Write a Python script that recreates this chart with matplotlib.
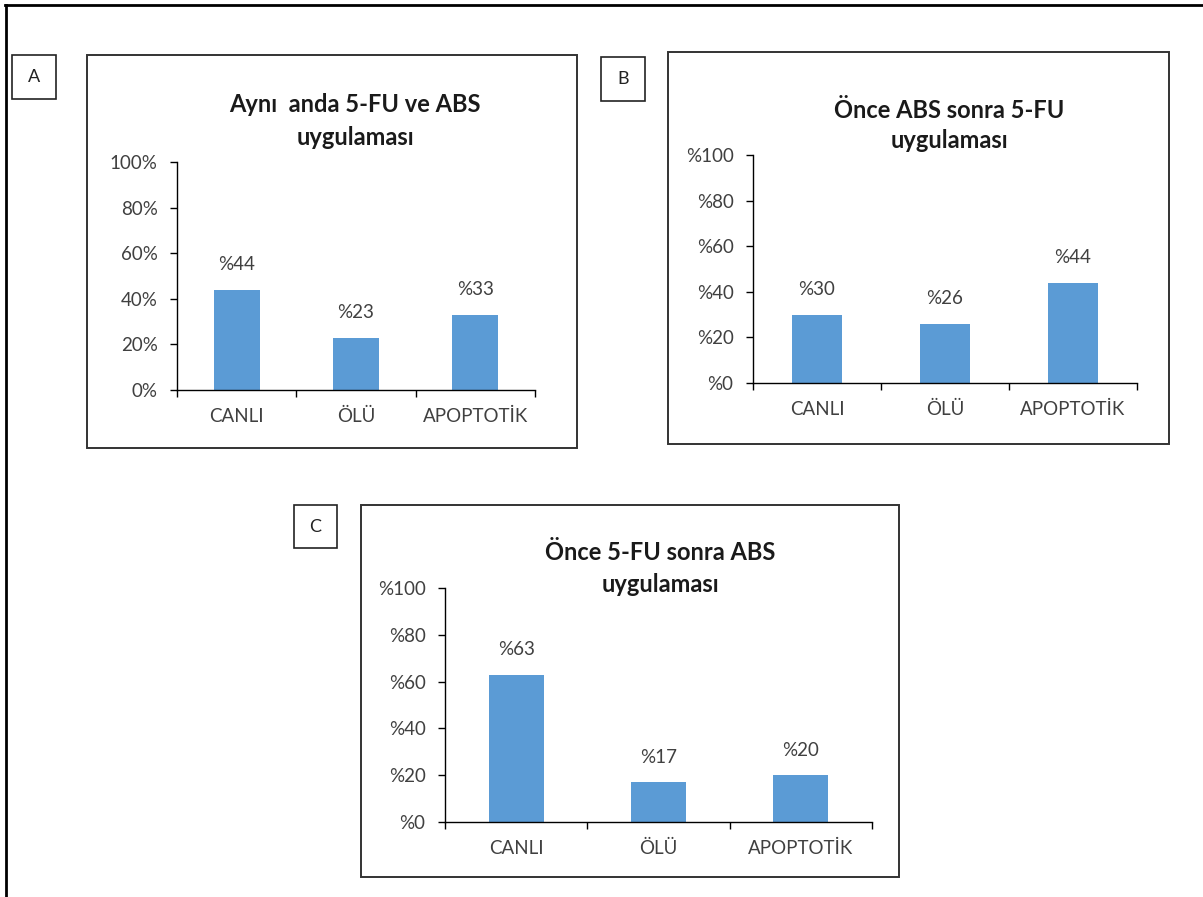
import matplotlib
matplotlib.use("Agg")
import matplotlib.pyplot as plt
from matplotlib.patches import Rectangle
from matplotlib.lines import Line2D

plt.rcParams['font.family'] = ['Lato', 'DejaVu Sans']

# ---- data ----
categories = ["CANLI", "ÖLÜ", "APOPTOTİK"]
titles = [
    ("Aynı  anda 5-FU ve ABS", "uygulaması"),
    ("Önce ABS sonra 5-FU", "uygulaması"),
    ("Önce 5-FU sonra ABS", "uygulaması"),
]
panel_letters = ["A", "B", "C"]
values_a = [44, 23, 33]
values_b = [30, 26, 44]
values_c = [63, 17, 20]
y_ticks = [0, 20, 40, 60, 80, 100]
tick_fmt = ["{}%", "%{}", "%{}"]

W, H = 1203, 897
fig = plt.figure(figsize=(W / 100, H / 100), dpi=100)
fig.patch.set_facecolor("white")

BAR = "#5B9BD5"
TXT = "#404040"


def fx(x):
    return x / W


def fy(y):
    return 1 - y / H


def frame(x0, y0, x1, y1, color, lw):
    fig.add_artist(Rectangle((fx(x0), fy(y1)), fx(x1) - fx(x0), fy(y0) - fy(y1),
                             transform=fig.transFigure, fill=False,
                             edgecolor=color, linewidth=lw))


# outer frame (top and left edges)
fig.add_artist(Line2D([fx(5), fx(1203)], [fy(5), fy(5)], transform=fig.transFigure,
                      color="black", linewidth=2))
fig.add_artist(Line2D([fx(5.5), fx(5.5)], [fy(5), fy(897)], transform=fig.transFigure,
                      color="black", linewidth=2))

# layout of each panel in pixel units
layouts = [
    dict(box=(87, 55, 577, 448), ax=(177, 162, 535, 390), title_x=355,
         title_y=(105, 137), tag=(12, 55, 56, 99)),
    dict(box=(668, 52, 1169, 444), ax=(753, 155, 1137, 383), title_x=949,
         title_y=(110, 140), tag=(601, 57, 645, 101)),
    dict(box=(361, 505, 899, 877), ax=(445, 588, 872, 822), title_x=660,
         title_y=(552, 585), tag=(294, 505, 337, 548)),
]
series = [values_a, values_b, values_c]

for i, (lay, vals) in enumerate(zip(layouts, series)):
    frame(*lay["box"], color="#333333", lw=1.4)
    frame(*lay["tag"], color="#222222", lw=1.2)
    tx0, ty0, tx1, ty1 = lay["tag"]
    fig.text(fx((tx0 + tx1) / 2), fy((ty0 + ty1) / 2), panel_letters[i],
             ha="center", va="center", fontsize=13, color="#222222")

    for line, ty in zip(titles[i], lay["title_y"]):
        fig.text(fx(lay["title_x"]), fy(ty), line, ha="center", va="center",
                 fontsize=17, fontweight="bold", color="#1a1a1a")

    x0, y0, x1, y1 = lay["ax"]
    ax = fig.add_axes([fx(x0), fy(y1), fx(x1) - fx(x0), fy(y0) - fy(y1)])
    ax.set_facecolor("none")
    xs = list(range(len(categories)))
    ax.bar(xs, vals, width=0.385, color=BAR, zorder=2)
    for x, v in zip(xs, vals):
        ax.annotate(f"%{v}", (x, v), xytext=(0, 18), textcoords="offset points",
                    ha="center", va="center", fontsize=13.5, color=TXT)

    ax.set_xlim(-0.5, 2.5)
    ax.set_ylim(0, 100)
    ax.set_yticks(y_ticks)
    ax.set_yticklabels([tick_fmt[i].format(t) for t in y_ticks])
    ax.set_xticks(xs)
    ax.set_xticklabels(categories)
    ax.set_xticks([-0.5, 0.5, 1.5, 2.5], minor=True)
    ax.tick_params(axis="x", which="major", length=0, pad=13, labelsize=13.5,
                   labelcolor=TXT)
    ax.tick_params(axis="x", which="minor", length=5, width=1, direction="out",
                   color="black")
    ax.tick_params(axis="y", length=5, width=1, direction="out", pad=9,
                   labelsize=13.5, labelcolor=TXT, color="black")
    for s in ("top", "right"):
        ax.spines[s].set_visible(False)
    for s in ("left", "bottom"):
        ax.spines[s].set_color("black")
        ax.spines[s].set_linewidth(1)

fig.savefig("out.png", dpi=100, facecolor="white")
